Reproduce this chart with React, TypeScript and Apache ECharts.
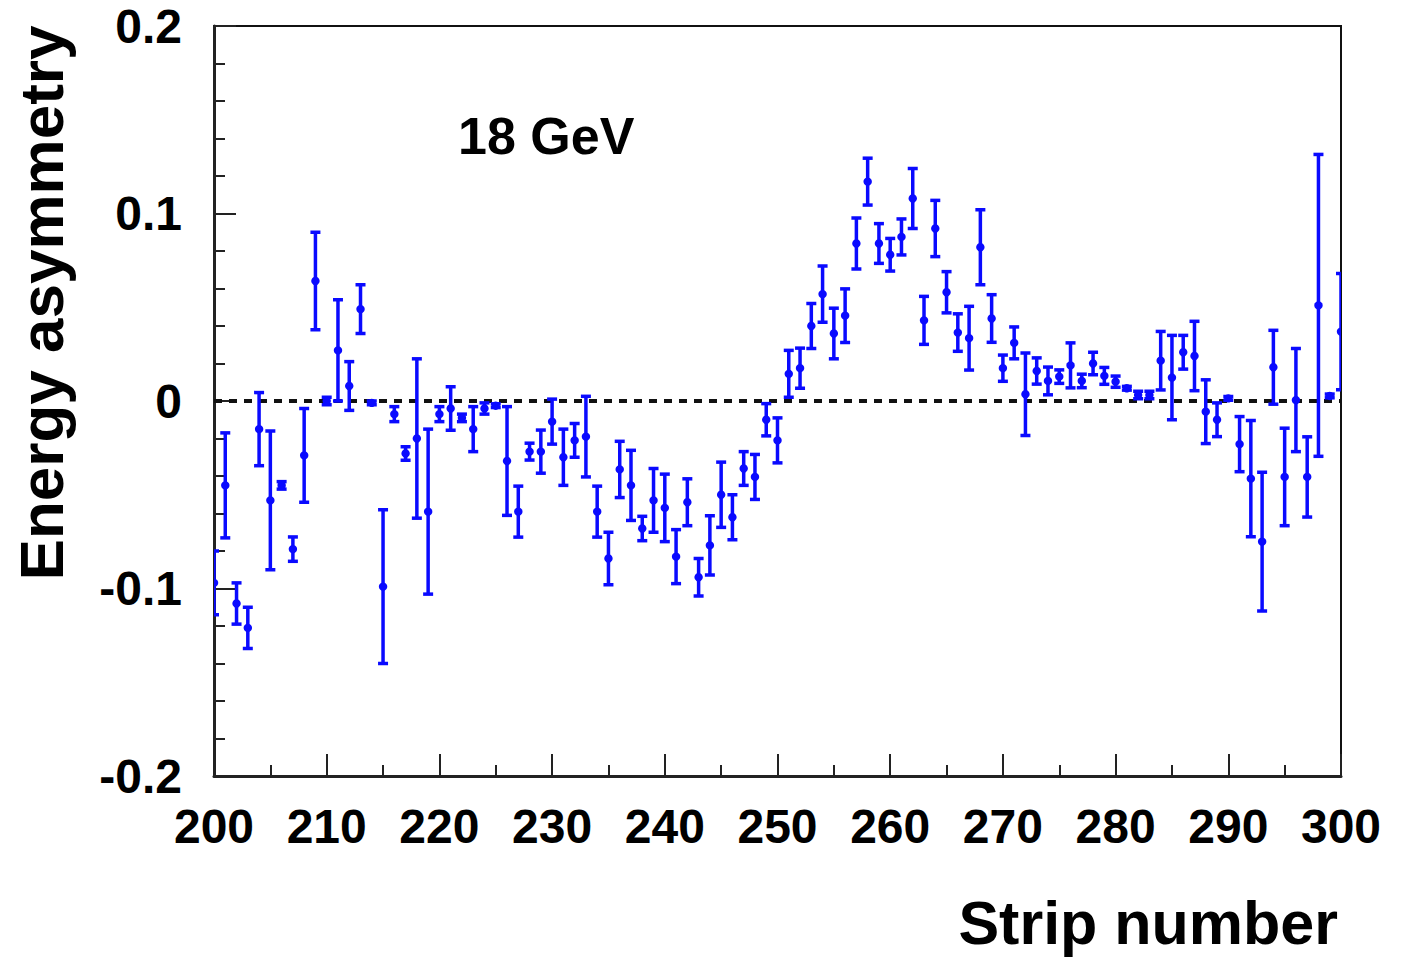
import React, { useEffect, useRef } from "react";
import * as echarts from "echarts";

const strips: number[] = [];
for (let s = 200; s <= 300; s++) strips.push(s);

const asymmetry = [
  -0.097, -0.045, -0.108, -0.121, -0.015, -0.053, -0.045, -0.079, -0.029, 0.064,
  0.0, 0.027, 0.008, 0.049, -0.001, -0.099, -0.007, -0.028, -0.02, -0.059,
  -0.007, -0.004, -0.009, -0.015, -0.004, -0.0025, -0.032, -0.059, -0.027, -0.027,
  -0.011, -0.03, -0.021, -0.019, -0.059, -0.084, -0.0365, -0.045, -0.068, -0.053,
  -0.057, -0.083, -0.054, -0.094, -0.077, -0.05, -0.062, -0.036, -0.0405, -0.01,
  -0.021, 0.0145, 0.0175, 0.04, 0.057, 0.036, 0.0455, 0.084, 0.117, 0.084,
  0.078, 0.0875, 0.108, 0.043, 0.092, 0.058, 0.0365, 0.0335, 0.082, 0.044,
  0.0175, 0.031, 0.0036, 0.016, 0.0107, 0.013, 0.019, 0.0107, 0.02, 0.0134,
  0.0103, 0.0068, 0.0032, 0.0032, 0.0215, 0.0125, 0.026, 0.024, -0.0057, -0.01,
  0.0014, -0.023, -0.0414, -0.075, 0.018, -0.0405, 0.0005, -0.0405, 0.051, 0.0027,
  0.037,
];

const errors = [
  0.017, 0.028, 0.011, 0.011, 0.0195, 0.037, 0.002, 0.0065, 0.025, 0.026,
  0.002, 0.027, 0.013, 0.013, 0.001, 0.041, 0.004, 0.0036, 0.0425, 0.044,
  0.004, 0.0116, 0.002, 0.012, 0.003, 0.001, 0.029, 0.0136, 0.0045, 0.0115,
  0.012, 0.015, 0.009, 0.0215, 0.0136, 0.014, 0.015, 0.0187, 0.0065, 0.017,
  0.018, 0.0144, 0.0125, 0.01, 0.0158, 0.0174, 0.012, 0.009, 0.012, 0.0086,
  0.012, 0.0125, 0.0107, 0.012, 0.015, 0.0135, 0.0143, 0.0136, 0.0125, 0.0106,
  0.0087, 0.0096, 0.016, 0.0128, 0.015, 0.011, 0.01, 0.017, 0.02, 0.0127,
  0.007, 0.0085, 0.022, 0.007, 0.0074, 0.0036, 0.012, 0.0036, 0.006, 0.0045,
  0.003, 0.001, 0.002, 0.002, 0.0156, 0.0225, 0.009, 0.0185, 0.017, 0.009,
  0.001, 0.0147, 0.031, 0.037, 0.0197, 0.026, 0.0275, 0.0214, 0.0805, 0.001,
  0.031,
];

const xTicks = { min: 200, max: 300, step: 10 };
const yTicks = { min: -0.2, max: 0.2, step: 0.1 };

const BLUE = "#0a0aff";
const FONT = "'Liberation Sans', Arial, Helvetica, sans-serif";

export default function App() {
  const ref = useRef<HTMLDivElement>(null);
  useEffect(() => {
    if (!ref.current) return;
    const chart = echarts.init(ref.current, undefined, { renderer: "svg" });
    const data = strips.map((s, i) => [s, asymmetry[i], errors[i]]);
    chart.setOption({
      animation: false,
      backgroundColor: "#fff",
      grid: {
        left: 214,
        right: 68,
        top: 26,
        bottom: 182,
        show: true,
        borderColor: "#111",
        borderWidth: 2,
        backgroundColor: "transparent",
      },
      xAxis: {
        type: "value",
        min: xTicks.min,
        max: xTicks.max,
        interval: xTicks.step,
        axisLine: { show: true, onZero: false, lineStyle: { color: "#222", width: 3 } },
        axisTick: { show: true, inside: true, length: 22, lineStyle: { color: "#222", width: 2 } },
        minorTick: { show: true, splitNumber: 2, length: 11, lineStyle: { color: "#222", width: 2 } },
        splitLine: { show: false },
        axisLabel: {
          color: "#000",
          fontSize: 48,
          fontWeight: "bold",
          fontFamily: FONT,
          margin: 26,
        },
      },
      yAxis: {
        type: "value",
        min: yTicks.min,
        max: yTicks.max,
        interval: yTicks.step,
        axisLine: { show: true, onZero: false, lineStyle: { color: "#222", width: 3 } },
        axisTick: { show: true, inside: true, length: 22, lineStyle: { color: "#222", width: 2 } },
        minorTick: { show: true, splitNumber: 5, length: 11, lineStyle: { color: "#222", width: 2 } },
        splitLine: { show: false },
        axisLabel: {
          color: "#000",
          fontSize: 48,
          fontWeight: "bold",
          fontFamily: FONT,
          margin: 32,
        },
      },
      series: [
        {
          type: "line",
          data: [
            [xTicks.min, 0],
            [xTicks.max, 0],
          ],
          symbol: "none",
          silent: true,
          lineStyle: { color: "#111", width: 4, type: [8, 7] },
          z: 1,
        },
        {
          type: "custom",
          clip: true,
          z: 2,
          data,
          renderItem: (params: any, api: any) => {
            const x = api.value(0);
            const y = api.value(1);
            const e = api.value(2);
            const c = api.coord([x, y]);
            const t = api.coord([x, y + e]);
            const b = api.coord([x, y - e]);
            const hw = 5;
            const st = { stroke: BLUE, lineWidth: 3.5 };
            return {
              type: "group",
              children: [
                { type: "line", shape: { x1: c[0], y1: t[1], x2: c[0], y2: b[1] }, style: st },
                { type: "line", shape: { x1: c[0] - hw, y1: t[1], x2: c[0] + hw, y2: t[1] }, style: st },
                { type: "line", shape: { x1: c[0] - hw, y1: b[1], x2: c[0] + hw, y2: b[1] }, style: st },
                { type: "circle", shape: { cx: c[0], cy: c[1], r: 4.2 }, style: { fill: BLUE } },
              ],
            };
          },
        },
      ],
      graphic: [
        {
          type: "text",
          x: 458,
          y: 136,
          style: {
            text: "18 GeV",
            font: `bold 52px ${FONT}`,
            fill: "#000",
            textAlign: "left",
            textVerticalAlign: "middle",
          },
        },
        {
          type: "text",
          x: 1338,
          y: 923,
          style: {
            text: "Strip number",
            font: `bold 61px ${FONT}`,
            fill: "#000",
            textAlign: "right",
            textVerticalAlign: "middle",
          },
        },
        {
          type: "text",
          x: 41,
          y: 303,
          rotation: Math.PI / 2,
          style: {
            text: "Energy asymmetry",
            font: `bold 62px ${FONT}`,
            fill: "#000",
            textAlign: "center",
            textVerticalAlign: "middle",
          },
        },
      ],
    });
    return () => chart.dispose();
  }, []);
  return (
    <div
      ref={ref}
      style={{ position: "fixed", left: 0, top: 0, width: 1409, height: 958 }}
    />
  );
}
